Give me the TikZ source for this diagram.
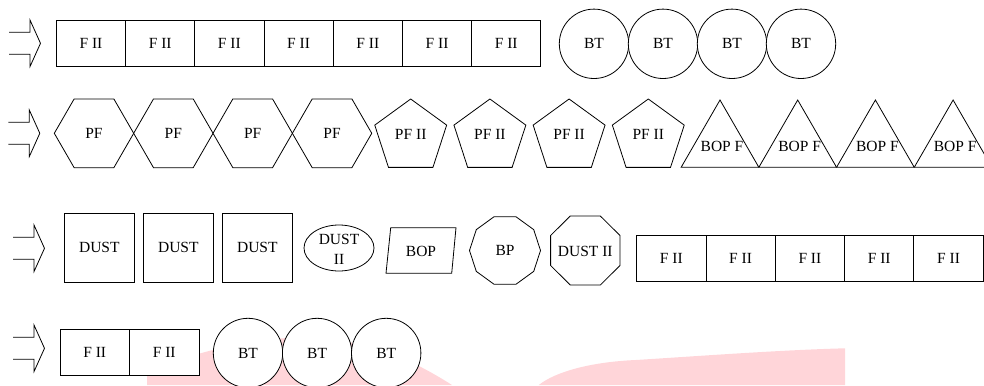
\documentclass[tikz,border=0pt]{standalone}
\usepackage{fontspec}
\setmainfont{Liberation Serif}
\usetikzlibrary{shapes.geometric}
\definecolor{wmpink}{RGB}{255,213,217}
\begin{document}
\begin{tikzpicture}[x=1bp,y=-1bp,
  line width=0.8bp,
  lbl/.style={font=\fontsize{15.5bp}{20bp}\selectfont, inner sep=0pt, outer sep=0pt},
  cell/.style={lbl, draw, fill=white, rectangle, minimum width=69.3bp, minimum height=46bp},
  sqbox/.style={lbl, draw, fill=white, rectangle, minimum width=70bp, minimum height=69bp},
  disc/.style={lbl, draw, fill=white, circle, minimum size=69.4bp},
  hexa/.style={lbl, draw, fill=white, regular polygon, regular polygon sides=6, minimum size=79.4bp},
  penta/.style={lbl, draw, fill=white, regular polygon, regular polygon sides=5, minimum size=75.6bp, text depth=5bp},
  deca/.style={lbl, draw, fill=white, regular polygon, regular polygon sides=10, minimum size=71bp},
  outline/.style={draw, fill=white},
  openarrow/.pic={\draw (0,-11) -- (21,-11) -- (21,-23.3) -- (31.5,0) -- (21,23.3) -- (21,11) -- (0,11);}
]
\useasboundingbox (0,0) rectangle (984,385);
\clip (0,0) rectangle (984,385);
% watermark
\fill[wmpink] (147,385) -- (147,374) .. controls (180,355) and (260,335) .. (310,338)
   .. controls (360,340) and (400,352) .. (452,385) -- cycle;
\fill[wmpink] (538.8,385) .. controls (555,372) and (590,362) .. (635.7,360)
   .. controls (700,356) and (780,350) .. (845,348.3) -- (845,385) -- cycle;

% row 1
\pic at (9,43.3) {openarrow};
\foreach \k in {0,...,6}
  \node[cell] (ra\k) at (91+69.2*\k,43.7) {F II};
\foreach \k in {0,...,3}
  \node[disc] (ca\k) at (594+69*\k,43.8) {BT};

% row 2
\pic at (8.3,133.3) {openarrow};
\foreach \k in {0,...,3}
  \node[hexa] (hx\k) at (94+79.35*\k,133.3) {PF};
\foreach \k in {0,...,3}
  \node[penta] (pt\k) at (410.7+79.2*\k,136.8) {PF II};
\foreach \k in {0,...,3}{
  \draw[outline] (720+77.7*\k,100) -- (758.85+77.7*\k,167.3) -- (681.15+77.7*\k,167.3) -- cycle;
  \node[lbl] (tr\k) at (722+77.7*\k,146) {BOP F};
}

% row 3
\pic at (13,248.3) {openarrow};
\foreach \k in {0,...,2}
  \node[sqbox] (sq\k) at (99.3+79*\k,247.8) {DUST};
\draw[outline] (339,248) ellipse [x radius=35, y radius=23];
\node[lbl, align=center] (el) at (339,249.6) {DUST\\II};
\draw[outline] (390.7,227.7) -- (456,227.7) -- (451.7,273.3) -- (386,273.3) -- cycle;
\node[lbl] (bop) at (421,251) {BOP};
\node[deca] (bp) at (505,250.5) {BP};
\draw[outline] (570.3,216) -- (600.3,216) -- (620,235.5) -- (620,265.5) -- (600.3,285)
   -- (570.3,285) -- (550.6,265.5) -- (550.6,235.5) -- cycle;
\node[lbl] (du2) at (585.3,251) {DUST II};
\foreach \k in {0,...,4}
  \node[cell] (rc\k) at (671.3+69.3*\k,258) {F II};

% row 4
\pic at (13,348.3) {openarrow};
\foreach \k in {0,...,1}
  \node[cell, minimum width=69.5bp, minimum height=46.4bp] (rd\k) at (94.75+69.5*\k,352.5) {F II};
\foreach \k in {0,...,2}
  \node[disc] (cd\k) at (248+69.1*\k,353) {BT};
\end{tikzpicture}
\end{document}
